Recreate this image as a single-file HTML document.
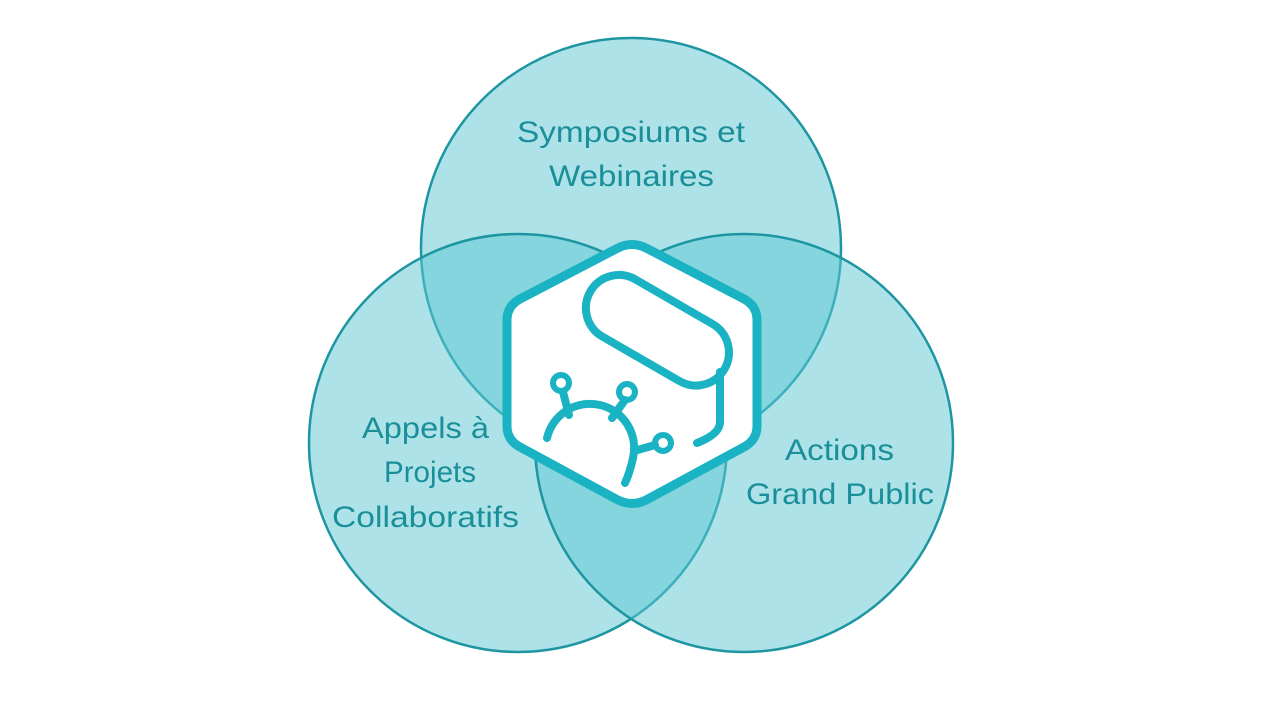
<!DOCTYPE html>
<html><head><meta charset="utf-8"><style>html,body{margin:0;padding:0;background:#fff}svg{display:block}</style></head>
<body>
<svg width="1280" height="720" viewBox="0 0 1280 720" xmlns="http://www.w3.org/2000/svg">
<g fill="#5cc8d2" fill-opacity="0.5" stroke="#1e96a2" stroke-width="2.5">
<circle cx="631" cy="248" r="210"/>
<circle cx="518" cy="443" r="209"/>
<circle cx="744" cy="443" r="209"/>
</g>
<path d="M616,249 Q632,240 648,249 L744,299 Q757,306 757,320 L757,426 Q757,440 744,447 L648,499 Q632,508 616,499 L520,447 Q507,440 507,426 L507,320 Q507,306 520,299 Z" fill="#fff" stroke="#1ab3c3" stroke-width="9" stroke-linejoin="round"/>
<g fill="none" stroke="#1ab3c3" stroke-width="8" stroke-linecap="round">
<rect x="580" y="297" width="155" height="66" rx="33" transform="rotate(30 657 330)"/>
<path d="M720,372 L720,422 Q720,434 697,443"/>
<path d="M547,438 A43,43 0 0 1 633,458 Q630,472 625,483"/>
<line x1="563" y1="392" x2="569" y2="415"/>
<line x1="625" y1="400" x2="612" y2="418"/>
<line x1="655" y1="445" x2="634" y2="451"/>
<circle cx="561" cy="383" r="8" stroke-width="6"/>
<circle cx="627" cy="392" r="8" stroke-width="6"/>
<circle cx="663" cy="443" r="8" stroke-width="6"/>
</g>
<g fill="#1a8f99" font-family="Liberation Sans, sans-serif" font-size="30">
<text x="517" y="142" textLength="228" lengthAdjust="spacingAndGlyphs">Symposiums et</text>
<text x="549" y="186" textLength="165" lengthAdjust="spacingAndGlyphs">Webinaires</text>
<text x="362" y="438" textLength="127" lengthAdjust="spacingAndGlyphs">Appels à</text>
<text x="384" y="482" textLength="92" lengthAdjust="spacingAndGlyphs">Projets</text>
<text x="332" y="527" textLength="187" lengthAdjust="spacingAndGlyphs">Collaboratifs</text>
<text x="785" y="460" textLength="109" lengthAdjust="spacingAndGlyphs">Actions</text>
<text x="746" y="504" textLength="188" lengthAdjust="spacingAndGlyphs">Grand Public</text>
</g>
</svg>
</body></html>
